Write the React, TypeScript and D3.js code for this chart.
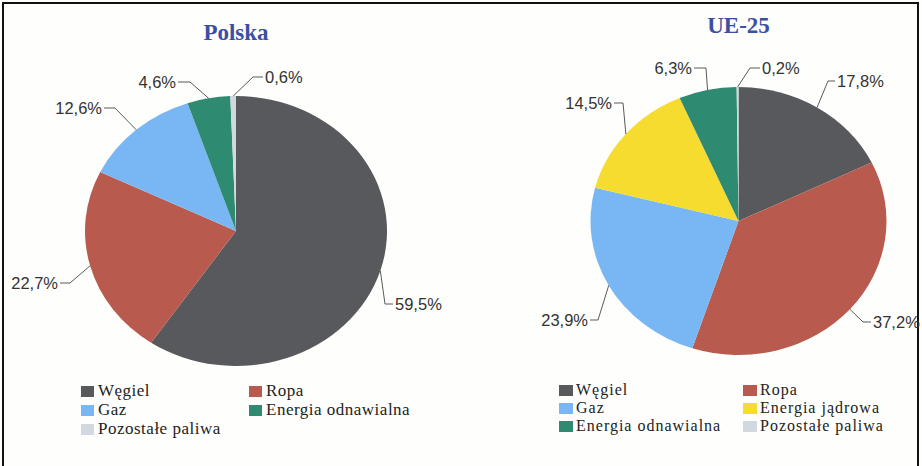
import { useMemo } from "react";
import * as d3 from "d3";

const W = 922;
const H = 466;

// data
const categoriesPL = ["Węgiel", "Ropa", "Gaz", "Energia odnawialna", "Pozostałe paliwa"];
const valuesPL = [59.5, 22.7, 12.6, 4.6, 0.6];

const categoriesUE = [
  "Węgiel",
  "Ropa",
  "Gaz",
  "Energia jądrowa",
  "Energia odnawialna",
  "Pozostałe paliwa",
];
const valuesUE = [17.8, 37.2, 23.9, 14.5, 6.3, 0.2];

const allCategories = [
  "Węgiel",
  "Ropa",
  "Gaz",
  "Energia jądrowa",
  "Energia odnawialna",
  "Pozostałe paliwa",
];
const palette = ["#58595c", "#b95a4e", "#79b6f4", "#f6dc2f", "#2f8a72", "#d2d8e0"];

const color = d3.scaleOrdinal<string, string>().domain(allCategories).range(palette);

const plFormat = d3.formatLocale({
  decimal: ",",
  thousands: " ",
  grouping: [3],
  currency: ["", " zł"],
}).format(".1f");

type LabelPos = { ex: number; ey: number; hx: number; side: "left" | "right" };

// label leader layout (elbow point + end of horizontal tick)
const labelsPL: LabelPos[] = [
  { ex: 385, ey: 304, hx: 393, side: "right" },
  { ex: 70, ey: 283, hx: 60, side: "left" },
  { ex: 115, ey: 108, hx: 104, side: "left" },
  { ex: 190, ey: 82, hx: 178, side: "left" },
  { ex: 253, ey: 77, hx: 263, side: "right" },
];
const labelsUE: LabelPos[] = [
  { ex: 828, ey: 81, hx: 835, side: "right" },
  { ex: 863, ey: 322, hx: 871, side: "right" },
  { ex: 598, ey: 320, hx: 590, side: "left" },
  { ex: 623, ey: 103, hx: 614, side: "left" },
  { ex: 706, ey: 68, hx: 694, side: "left" },
  { ex: 750, ey: 68, hx: 760, side: "right" },
];

type PieProps = {
  title: string;
  titleY: number;
  cx: number;
  cy: number;
  rx: number;
  ry: number;
  categories: string[];
  values: number[];
  labels: LabelPos[];
  legendCols: number[];
  legendRows: number[];
  legendFont: number;
  legendSpacing: number;
  swatchW: number;
  textGap: number;
};

const PieBlock = (p: PieProps) => {
  const R = 100;
  const arcs = useMemo(() => {
    const pie = d3.pie<number>().sort(null).value((d) => d);
    return pie(p.values);
  }, [p.values]);
  const arcGen = d3.arc<d3.PieArcDatum<number>>().innerRadius(0).outerRadius(R);

  return (
    <g>
      <text
        x={p.cx}
        y={p.titleY}
        textAnchor="middle"
        fontFamily="'Liberation Serif', 'Times New Roman', serif"
        fontWeight="bold"
        fontSize={23}
        fill="#3b4fa2"
      >
        {p.title}
      </text>
      <g transform={`translate(${p.cx},${p.cy}) scale(${p.rx / R},${p.ry / R})`}>
        {arcs.map((a, i) => (
          <path key={i} d={arcGen(a) || ""} fill={color(p.categories[i])} />
        ))}
      </g>
      {arcs.map((a, i) => {
        const mid = (a.startAngle + a.endAngle) / 2;
        const sx = p.cx + p.rx * Math.sin(mid);
        const sy = p.cy - p.ry * Math.cos(mid);
        const l = p.labels[i];
        const tx = l.side === "right" ? l.hx + 2 : l.hx - 2;
        return (
          <g key={i}>
            <polyline
              points={`${sx},${sy} ${l.ex},${l.ey} ${l.hx},${l.ey}`}
              fill="none"
              stroke="#5a5a5a"
              strokeWidth={1}
            />
            <text
              x={tx}
              y={l.ey}
              dy="0.36em"
              textAnchor={l.side === "right" ? "start" : "end"}
              fontFamily="'Liberation Sans', Arial, sans-serif"
              fontSize={16.5}
              fill="#333"
            >
              {plFormat(p.values[i])}%
            </text>
          </g>
        );
      })}
      {p.categories.map((c, i) => {
        const col = p.legendCols[i % 2];
        const row = p.legendRows[Math.floor(i / 2)];
        return (
          <g key={c}>
            <rect x={col} y={row - 10} width={p.swatchW} height={11} fill={color(c)} />
            <text
              x={col + p.swatchW + p.textGap}
              y={row}
              fontFamily="'Liberation Serif', 'Times New Roman', serif"
              fontSize={p.legendFont}
              letterSpacing={p.legendSpacing}
              fill="#222"
            >
              {c}
            </text>
          </g>
        );
      })}
    </g>
  );
};

export default function App() {
  return (
    <svg
      width={W}
      height={H}
      style={{ position: "absolute", left: 0, top: 0, background: "#fefefc" }}
    >
      <rect x={3} y={3} width={915} height={H + 10} fill="none" stroke="#111" strokeWidth={2} />
      <PieBlock
        title="Polska"
        titleY={40}
        cx={236}
        cy={231}
        rx={151}
        ry={135}
        categories={categoriesPL}
        values={valuesPL}
        labels={labelsPL}
        legendCols={[81, 249]}
        legendRows={[396, 415, 434]}
        legendFont={17}
        legendSpacing={0.5}
        swatchW={13}
        textGap={4}
      />
      <PieBlock
        title="UE-25"
        titleY={33}
        cx={738.5}
        cy={221}
        rx={148}
        ry={134}
        categories={categoriesUE}
        values={valuesUE}
        labels={labelsUE}
        legendCols={[559, 743]}
        legendRows={[395, 413, 431]}
        legendFont={16}
        legendSpacing={1}
        swatchW={14}
        textGap={3}
      />
    </svg>
  );
}
